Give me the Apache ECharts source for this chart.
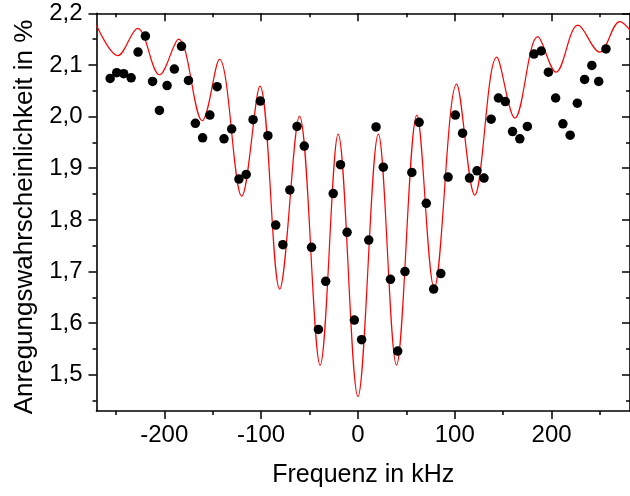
<!DOCTYPE html>
<html>
<head>
<meta charset="utf-8">
<script src="https://cdn.jsdelivr.net/npm/echarts@6/dist/echarts.min.js"></script>
<style>
html,body{margin:0;padding:0;background:#fff;}
#chart{width:630px;height:496px;}
</style>
</head>
<body>
<div id="chart"></div>
<script>
// Measured points (frequency in kHz, excitation probability in %)
const dotFreq = [-255.9,-249.1,-241.9,-234.2,-227.1,-219.5,-212.1,-205.0,-197.1,-189.6,-182.2,-175.0,-167.9,-160.4,-152.9,-145.4,-138.3,-130.4,-122.9,-115.4,-108.3,-100.8,-93.0,-84.9,-77.5,-70.3,-62.9,-55.4,-47.9,-40.8,-33.3,-25.5,-18.0,-11.2,-3.7,3.8,11.2,18.7,26.2,33.6,41.1,48.6,55.7,63.2,70.6,78.2,85.6,93.1,100.6,108.1,115.2,123.0,130.2,137.6,145.1,152.2,159.7,167.2,175.0,181.8,189.3,196.7,204.2,211.7,219.2,226.6,234.1,241.6,248.7,256.2];
const dotProb = [2.074,2.085,2.083,2.075,2.125,2.156,2.068,2.012,2.060,2.092,2.136,2.070,1.987,1.959,2.003,2.058,1.957,1.976,1.879,1.888,1.994,2.030,1.963,1.790,1.752,1.858,1.981,1.943,1.747,1.588,1.681,1.851,1.907,1.776,1.606,1.568,1.761,1.980,1.902,1.685,1.546,1.700,1.892,1.989,1.832,1.666,1.696,1.883,2.003,1.968,1.881,1.895,1.881,1.995,2.036,2.029,1.971,1.957,1.981,2.121,2.127,2.086,2.036,1.986,1.964,2.026,2.072,2.099,2.068,2.131];

// Fit curve (read at its turning points)
const fitFreq = [-270.0,-248.0,-227.6,-204.9,-185.2,-160.8,-143.0,-120.0,-101.2,-80.8,-60.4,-39.0,-20.4,0.0,21.1,39.8,60.9,78.8,101.9,120.6,143.4,162.1,185.8,204.6,227.3,249.7,270.5,284.0];
const fitProb = [2.177,2.118,2.171,2.081,2.150,1.992,2.111,1.846,2.059,1.666,2.001,1.519,1.966,1.458,1.966,1.519,2.003,1.668,2.063,1.848,2.115,1.997,2.155,2.086,2.177,2.125,2.184,2.160];

// Axis ticks
const xMajorTicks = [-200,-100,0,100,200];
const xMinorTicks = [-250,-150,-50,50,150,250];
const yMajorTicks = [1.5,1.6,1.7,1.8,1.9,2.0,2.1,2.2];
const yMinorTicks = [1.45,1.55,1.65,1.75,1.85,1.95,2.05,2.15];

const xTitle = 'Frequenz in kHz';
const yTitle = 'Anregungswahrscheinlichkeit in %';

const FONT = 'Liberation Sans';
const X_MIN = -270, X_MAX = 281, Y_MIN = 1.43, Y_MAX = 2.2;
const black = '#000';

function xAxisDef(pos, ticks, len, inside, showLine, showLabel, extra) {
  return Object.assign({
    type: 'value', position: pos, min: X_MIN, max: X_MAX,
    axisLine: {show: showLine, onZero: false, lineStyle: {color: black, width: 1.6}},
    axisTick: {show: true, inside: inside, length: len, customValues: ticks, lineStyle: {color: black, width: 1.5}},
    axisLabel: {show: showLabel, customValues: ticks, margin: 12, fontSize: 24, fontFamily: FONT, color: black},
    splitLine: {show: false}
  }, extra || {});
}
function yAxisDef(pos, ticks, len, inside, showLine, showLabel) {
  return {
    type: 'value', position: pos, min: Y_MIN, max: Y_MAX,
    axisLine: {show: showLine, onZero: false, lineStyle: {color: black, width: 1.6}},
    axisTick: {show: true, inside: inside, length: len, customValues: ticks, lineStyle: {color: black, width: 1.5}},
    axisLabel: {show: showLabel, customValues: ticks, margin: 14, fontSize: 24, fontFamily: FONT, color: black,
      formatter: v => v.toFixed(1).replace('.', ',')},
    splitLine: {show: false}
  };
}

const chart = echarts.init(document.getElementById('chart'), null, {renderer: 'canvas'});
chart.setOption({
  animation: false,
  backgroundColor: '#fff',
  grid: {left: 96.5, right: -6, top: 13.3, bottom: 85, containLabel: false},
  xAxis: [
    xAxisDef('bottom', xMajorTicks, 8, false, true, true, {
      name: xTitle, nameLocation: 'middle', nameGap: 52,
      nameTextStyle: {fontSize: 25, fontFamily: FONT, color: black}
    }),
    xAxisDef('bottom', xMinorTicks, 4, false, false, false),
    xAxisDef('top', xMajorTicks, 8, true, true, false),
    xAxisDef('top', xMinorTicks, 4, true, false, false)
  ],
  yAxis: [
    yAxisDef('left', yMajorTicks, 8, false, true, true),
    yAxisDef('left', yMinorTicks, 4, false, false, false),
    yAxisDef('right', yMajorTicks, 8, true, true, false),
    yAxisDef('right', yMinorTicks, 4, true, false, false)
  ],
  graphic: [{
    type: 'text', x: 25, y: 217, rotation: Math.PI / 2,
    style: {text: yTitle, font: '26px "' + FONT + '"', fill: black, textAlign: 'center', textVerticalAlign: 'middle'}
  }],
  series: [
    {
      type: 'line', name: 'Fit', xAxisIndex: 0, yAxisIndex: 0,
      data: fitFreq.map((f, i) => [f, fitProb[i]]),
      smooth: 0.36, showSymbol: false, clip: true,
      lineStyle: {color: '#ff0000', width: 1.2}, z: 2
    },
    {
      type: 'scatter', name: 'Messung', xAxisIndex: 0, yAxisIndex: 0,
      data: dotFreq.map((f, i) => [f, dotProb[i]]),
      symbol: 'circle', symbolSize: 9.5,
      itemStyle: {color: '#000', opacity: 1}, z: 3
    }
  ]
});
</script>
</body>
</html>
